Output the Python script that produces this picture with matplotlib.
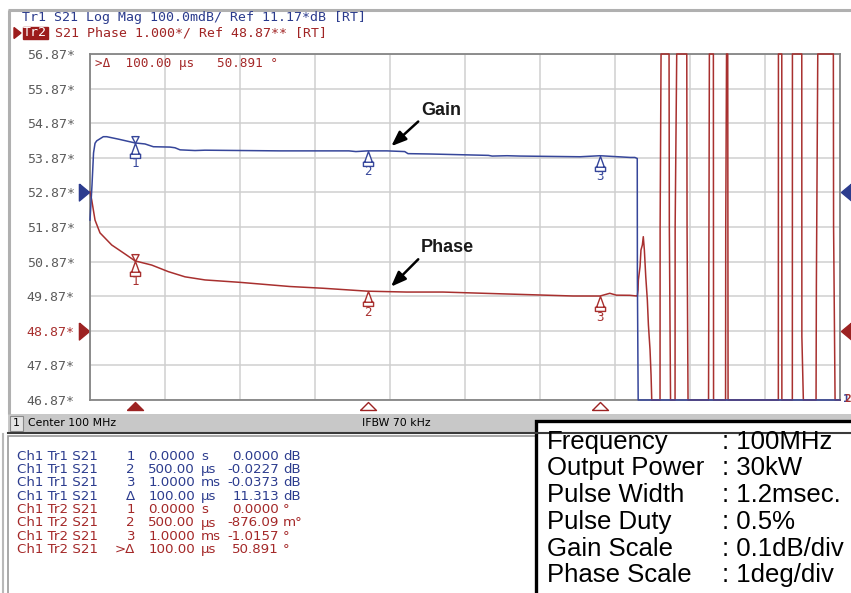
import matplotlib
matplotlib.use("Agg")
import matplotlib.pyplot as plt
import numpy as np
from matplotlib.patches import Polygon, Rectangle
from matplotlib.path import Path

W, H = 851, 593

BLUE = "#36469a"
RED = "#a8302f"
GRID = "#cfcfcf"
MONO = "DejaVu Sans Mono"

# sweep window, microseconds
T_START, T_STOP = 3.2, 1616.0

# Tr1: S21 log magnitude (dB)
gain_t = [3.2, 7.5, 10.8, 14.0, 17.6, 31.8, 39.1, 64.1, 100.0, 121.5, 139.4, 175.0,
          186.0, 196.8, 229.0, 250.5, 411.8, 560.0, 575.0, 600.0, 642.0, 680.0, 687.0,
          734.0, 860.0, 868.0, 900.0, 928.0, 1057.0, 1100.0, 1165.0, 1175.0, 1180.0,
          1180.3, 1182.0, 1616.0]
gain_db = [11.090, 11.191, 11.284, 11.312, 11.319, 11.331, 11.331, 11.324, 11.313,
           11.310, 11.302, 11.301, 11.299, 11.293, 11.291, 11.292, 11.290, 11.290,
           11.288, 11.290, 11.290, 11.288, 11.282, 11.281, 11.277, 11.275, 11.276,
           11.275, 11.273, 11.276, 11.271, 11.271, 11.268, 10.923, 10.57, 10.57]

# Tr2: S21 phase (deg), display-clipped to the graticule after the pulse ends
phase_t = [3.2, 6.9, 14.0, 24.7, 49.9, 78.5, 100.0, 135.9, 171.6, 207.5, 250.5, 326.0,
           433.0, 504.0, 600.0, 684.0, 762.0, 899.0, 1042.0, 1100.0, 1121.0, 1135.0,
           1164.0, 1179.0, 1180.2, 1181.7, 1182.4, 1186.0, 1188.0, 1191.0, 1193.0,
           1195.3, 1198.3, 1201.7, 1204.0, 1207.5, 1209.7, 1211.2,
           1229.0, 1229.2, 1231.2, 1248.4, 1249.0, 1251.6, 1261.3, 1261.5, 1264.9,
           1286.5, 1287.1, 1289.2, 1333.3, 1335.1, 1343.7, 1344.1, 1369.9, 1370.3,
           1372.0, 1374.6, 1375.3, 1483.4, 1483.6, 1490.8, 1491.0, 1513.5, 1513.7,
           1533.8, 1534.0, 1537.2, 1564.5, 1565.2, 1568.2, 1601.7, 1602.2, 1605.4, 1616.0]
phase_deg = [52.89, 52.65, 52.07, 51.70, 51.35, 51.09, 50.891, 50.77, 50.58, 50.43,
             50.34, 50.27, 50.15, 50.10, 50.015, 49.99, 49.99, 49.934, 49.876, 49.875,
             49.954, 49.90, 49.896, 49.876, 49.876, 50.05, 50.338, 50.723, 51.205,
             51.35, 51.59, 51.205, 50.434, 49.76, 49.04, 48.32, 47.59, 46.87,
             46.87, 51.88, 56.87, 56.87, 51.88, 46.87, 46.87, 51.88, 56.87,
             56.87, 51.88, 46.87, 46.87, 56.87, 56.87, 46.87, 46.87, 51.88,
             56.87, 56.87, 46.87, 46.87, 56.87, 56.87, 46.87, 46.87, 56.87,
             56.87, 48.70, 46.87, 46.87, 50.19, 56.87, 56.87, 51.88, 46.87, 46.87]

# marker readouts (relative to the delta reference marker at 100 us)
marker_t = [100.0, 600.0, 1100.0]
gain_ref_db = 11.313
gain_marker_rel = [0.0, -0.0227, -0.0373]
phase_ref_deg = 50.891
phase_marker_rel = [0.0, -0.87609, -1.0157]

phase_ticks = [56.87 - i for i in range(11)]
gain_ref_level = 11.17
phase_ref_level = 48.87

table_rows = [
    ("Tr1", "1", "0.0000", "s", "0.0000", "dB"),
    ("Tr1", "2", "500.00", "µs", "-0.0227", "dB"),
    ("Tr1", "3", "1.0000", "ms", "-0.0373", "dB"),
    ("Tr1", "Δ", "100.00", "µs", "11.313", "dB"),
    ("Tr2", "1", "0.0000", "s", "0.0000", "°"),
    ("Tr2", "2", "500.00", "µs", "-876.09", "m°"),
    ("Tr2", "3", "1.0000", "ms", "-1.0157", "°"),
    ("Tr2", ">Δ", "100.00", "µs", "50.891", "°"),
]

spec_names = ["Frequency", "Output Power", "Pulse Width", "Pulse Duty", "Gain Scale", "Phase Scale"]
spec_values = ["100MHz", "30kW", "1.2msec.", "0.5%", "0.1dB/div", "1deg/div"]


def bell_marker(with_top: bool) -> Path:
    """Marker glyph with its apex on the data point; optional inverted cap for the reference marker."""
    verts = [(0, 0), (0.26, -0.72), (0.34, -0.72), (0.34, -1), (-0.34, -1),
             (-0.34, -0.72), (-0.26, -0.72), (0, 0),
             (-0.26, -0.72), (0.26, -0.72)]
    codes = [Path.MOVETO] + [Path.LINETO] * 6 + [Path.CLOSEPOLY, Path.MOVETO, Path.LINETO]
    if with_top:
        verts += [(0, 0), (0.24, 0.46), (-0.24, 0.46), (0, 0)]
        codes += [Path.MOVETO, Path.LINETO, Path.LINETO, Path.CLOSEPOLY]
    return Path(verts, codes)


TRI_RIGHT = Path([(-0.6, 1), (0.6, 0), (-0.6, -1), (-0.6, 1)])
TRI_LEFT = Path([(0.6, 1), (-0.6, 0), (0.6, -1), (0.6, 1)])
TRI_UP = Path([(-1, -0.5), (1, -0.5), (0, 0.5), (-1, -0.5)])

fig = plt.figure(figsize=(W / 100, H / 100), dpi=100)
fig.patch.set_facecolor("white")

# pixel-space layer for the window furniture
bg = fig.add_axes([0, 0, 1, 1])
bg.set_xlim(0, W)
bg.set_ylim(H, 0)
bg.axis("off")

# window frame
bg.plot([8, W], [10, 10], color="#b0b0b0", lw=2.2, solid_capstyle="butt")
bg.plot([9, 9], [10, 414], color="#b0b0b0", lw=2.2, solid_capstyle="butt")

# trace header lines
bg.text(22, 18, "Tr1 S21 Log Mag 100.0mdB/ Ref 11.17*dB [RT]", color="#2a3a8c",
        family=MONO, fontsize=9.5, va="center")
bg.add_patch(Polygon([(14, 27.5), (21, 33), (14, 38.5)], closed=True, color="#9c1c1c"))
bg.add_patch(Rectangle((22.5, 27), 25, 12, color="#9c1c1c"))
bg.text(35, 33, "Tr2", color="white", family=MONO, fontsize=9.5, va="center", ha="center")
bg.text(55, 33, "S21 Phase 1.000*/ Ref 48.87** [RT]", color="#a02424",
        family=MONO, fontsize=9.5, va="center")

# status bar
bg.add_patch(Rectangle((8, 414), W - 8, 18, facecolor="#c8c8c8", edgecolor="none"))
bg.plot([8, W], [432.5, 432.5], color="#3a3a3a", lw=1.5)
bg.add_patch(Rectangle((9.5, 415.5), 13, 15, facecolor="#e4e4e4", edgecolor="#8a8a8a", lw=0.8))
narrow = ["Liberation Sans Narrow", "DejaVu Sans"]
bg.text(16, 423.5, "1", family=narrow, fontsize=7.8, ha="center", va="center")
bg.text(28, 423.5, "Center 100 MHz", family=narrow, fontsize=7.8, va="center")
bg.text(362, 423.5, "IFBW 70 kHz", family=narrow, fontsize=7.8, va="center")

# marker readout panel
bg.add_patch(Rectangle((8, 436), 540, 170, facecolor="white", edgecolor="#9a9a9a", lw=1.2))
bg.plot([3, 3], [434, H], color="#b8b8b8", lw=1.5)
for i, (tr, mk, stim, stim_u, resp, resp_u) in enumerate(table_rows):
    y = 456 + 13.4 * i
    c = "#2c3c8e" if tr == "Tr1" else "#a42828"
    kw = dict(color=c, family="DejaVu Sans", fontsize=9.6, va="center")
    bg.text(17, y, f"Ch1 {tr} S21", **kw)
    bg.text(135, y, mk, ha="right", **kw)
    bg.text(195, y, stim, ha="right", **kw)
    bg.text(201, y, stim_u, **kw)
    bg.text(279, y, resp, ha="right", **kw)
    bg.text(283, y, resp_u, **kw)

# conditions box
bg.add_patch(Rectangle((535.5, 420.5), 340, 200, facecolor="white", edgecolor="black", lw=2.4))
for i, (name, val) in enumerate(zip(spec_names, spec_values)):
    y = 441.7 + 26.7 * i
    bg.text(547, y, name, family="Liberation Sans", fontsize=18.5, va="center")
    bg.text(722, y, ": " + val, family="Liberation Sans", fontsize=18.5, va="center")

# graticule: phase scale on the main axes, log-mag scale on a twin
ax = fig.add_axes([90 / W, 1 - 400 / H, 750 / W, 346 / H])
ax.set_zorder(2)
ax.set_xlim(T_START, T_STOP)
ax.set_ylim(46.87, 56.87)
ax.set_xticks(np.linspace(T_START, T_STOP, 11))
ax.set_yticks(phase_ticks)
ax.set_yticklabels([f"{v:.2f}*" for v in phase_ticks], family=MONO, fontsize=9.5)
for lab, v in zip(ax.get_yticklabels(), phase_ticks):
    lab.set_color(RED if abs(v - phase_ref_level) < 1e-6 else "#5c5c5c")
ax.tick_params(length=0, labelbottom=False, pad=11)
ax.grid(color=GRID, lw=1.1)
for sp in ax.spines.values():
    sp.set_color("#858585")
    sp.set_linewidth(1.3)

ax2 = ax.twinx()
ax2.set_zorder(3)
ax2.patch.set_visible(False)
ax2.set_ylim(gain_ref_level - 0.6, gain_ref_level + 0.4)
ax2.set_yticks([])
for sp in ax2.spines.values():
    sp.set_visible(False)

ax.plot(phase_t, phase_deg, color=RED, lw=1.1, clip_on=False, zorder=3)
ax2.plot(gain_t, gain_db, color=BLUE, lw=1.1, clip_on=False, zorder=3)

# trace markers with their numbers underneath
gain_mk = [gain_ref_db + d for d in gain_marker_rel]
phase_mk = [phase_ref_deg + d for d in phase_marker_rel]
for axis, vals, col in ((ax2, gain_mk, BLUE), (ax, phase_mk, RED)):
    for i, (t, v) in enumerate(zip(marker_t, vals)):
        axis.plot([t], [v], marker=bell_marker(i == 0), ms=21.5, mfc="white", mec=col,
                  mew=1.0, ls="none", zorder=4, clip_on=False)
        axis.annotate(str(i + 1), xy=(t, v), xytext=(0, -21), textcoords="offset pixels",
                      ha="center", va="center", color=col, family=MONO, fontsize=9)

# delta reference readout
ax2.text(95, 63, ">Δ  100.00 µs   50.891 °", transform=bg.transData, color="#a42828",
         family=MONO, fontsize=9.1, va="center")

# reference level arrows on both sides, stimulus arrows below
ytr2 = ax2.get_yaxis_transform()
ytr = ax.get_yaxis_transform()
for x, mk in ((-0.008, TRI_RIGHT), (1.008, TRI_LEFT)):
    ax2.plot([x], [gain_ref_level], marker=mk, ms=12.2, color="#2c3c8e", transform=ytr2,
             clip_on=False, ls="none")
    ax.plot([x], [phase_ref_level], marker=mk, ms=12.2, color="#9c2222", transform=ytr,
            clip_on=False, ls="none")
xtr = ax.get_xaxis_transform()
for i, t in enumerate(marker_t):
    ax.plot([t], [-0.0173], marker=TRI_UP, ms=11.5, mec="#9c2222", mew=1.0,
            mfc="#9c2222" if i == 0 else "white", transform=xtr, clip_on=False, ls="none")

# trace numbers at the right end of the graticule
ax2.text(1.004, 0.004, "1", transform=ax.transAxes, color=BLUE, family=MONO,
         fontsize=8, fontweight="bold", va="center")
ax2.text(1.006, 0.004, "2", transform=ax.transAxes, color=RED, family=MONO,
         fontsize=8, fontweight="bold", va="center")

# callouts
arrow = dict(arrowstyle="-|>,head_length=0.9,head_width=0.35", lw=1.8, color="black",
             shrinkA=0, shrinkB=5, relpos=(0, 0), mutation_scale=10)
ax2.annotate("Gain", xy=(640, np.interp(640, gain_t, gain_db)), xycoords=ax2.transData,
             xytext=(421, 119), textcoords=bg.transData, ha="left", va="bottom",
             fontsize=13, fontweight="bold", family="Liberation Sans", color="#1a1a1a",
             arrowprops=arrow)
ax2.annotate("Phase", xy=(640, np.interp(640, phase_t, phase_deg)), xycoords=ax.transData,
             xytext=(421, 256.5), textcoords=bg.transData, ha="left", va="bottom",
             fontsize=13, fontweight="bold", family="Liberation Sans", color="#1a1a1a",
             arrowprops=arrow)

fig.savefig("out.png", dpi=100)
